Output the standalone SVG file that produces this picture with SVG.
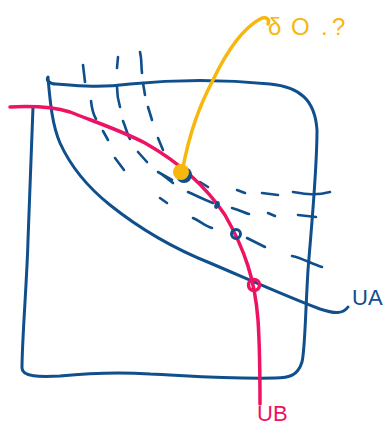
<svg xmlns="http://www.w3.org/2000/svg" width="385" height="429" viewBox="0 0 385 429">
<style>
.b{fill:none;stroke:#0f4f8c;stroke-width:3;stroke-linecap:round;stroke-linejoin:round}
.d{fill:none;stroke:#0f4f8c;stroke-width:2.6;stroke-linecap:round}
.p{fill:none;stroke:#ee1263;stroke-width:3.5;stroke-linecap:round}
.y{fill:none;stroke:#f7b70d;stroke-width:3.5;stroke-linecap:round}
.t{font-family:"Liberation Sans",Arial,sans-serif}
</style>
<rect width="385" height="429" fill="#fff"/>
<g id="frame">
<path class="b" d="M48,77 C46,80 49,84 56,84 C80,86 100,88 130,84 C170,80 220,79 270,84 C300,87 315,100 317,130 C317,170 312,220 308,270 C305,320 305,350 302,362 C298,375 290,378 275,378 C220,379 180,375 150,374 C120,372 90,373 60,376 C40,377 22,377 22,368 C22,340 27,280 28,240 C30,190 32,140 33,107"/>
</g>
<g id="dashes">
<path class="d" d="M83,65 L85,82 M118,57 L117,68 M140,52 C142,60 141,66 142,73 M143,83 L145,95 M117,87 C117,95 118,100 120,107 M91,101 C92,110 93,114 96,119 M148,107 L152,120 M123,121 C126,128 127,134 130,139 M103,131 L108,140 M158,138 L163,150 M115,158 L124,170 M138,152 L147,162 M158,172 L172,180 M200,182 L208,187 M160,173 L173,183 M160,198 L167,203 M188,192 C197,196 205,200 213,203 M193,218 C200,221 205,226 212,228 M237,190 L245,193 M262,193 L278,195 M293,192 C305,194 315,196 330,192 M232,208 C240,210 244,213 249,214 M268,213 L275,216 M298,215 L316,217 M247,238 L265,247 M292,256 C302,258 312,264 322,267"/>
</g>
<g id="UA">
<path class="b" d="M48,78 C50,100 52,125 60,143 C70,165 85,185 110,205 C135,225 165,245 210,263 C250,280 290,298 320,309 C335,314 343,314 348,307"/>
<text class="t" x="352" y="305" font-size="22" fill="#0f4f8c">UA</text>
</g>
<g id="UB">
<path class="p" d="M10,107 C30,106 50,106 70,112 C95,122 120,130 145,143 C175,160 205,185 225,215 C245,250 255,280 258,320 C260,350 260,380 260,404"/>
<text class="t" x="257" y="421" font-size="22" fill="#ee1263">UB</text>
</g>
<g id="points">
<ellipse cx="217" cy="205" rx="2.5" ry="4" transform="rotate(20 217 205)" fill="#0f4f8c"/>
<circle cx="236" cy="234" r="4.5" fill="none" stroke="#0f4f8c" stroke-width="3"/>
<circle cx="254" cy="285" r="5.5" fill="none" stroke="#ee1263" stroke-width="3.5"/>
</g>
<g id="bo">
<path class="y" d="M182,172 C190,130 200,105 213,80 C225,55 240,30 260,19 C266,16 270,19 268,24"/>
<circle cx="184" cy="175" r="8" fill="#0f4f8c"/>
<circle cx="181" cy="172" r="8" fill="#f7b70d"/>
<text class="t" font-size="24" fill="#f7b70d" x="268 291 321 332" y="35">δO.?</text>
</g>
</svg>
